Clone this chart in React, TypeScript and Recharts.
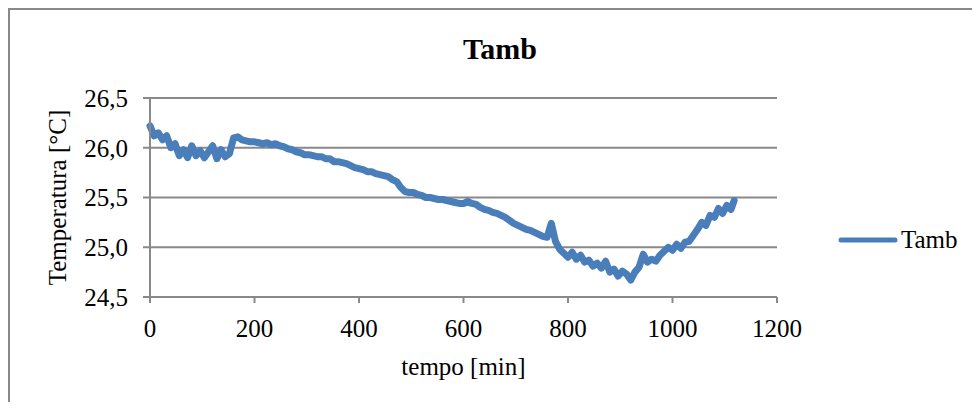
import React from 'react';
import { LineChart, Line, XAxis, YAxis, CartesianGrid, Legend, Label } from 'recharts';

// tempo [min] e temperatura ambiente [°C]
const tempo = [
  0, 8, 16, 24, 32, 40, 48, 56, 64, 72,
  80, 88, 96, 104, 112, 120, 128, 136, 144, 152,
  160, 168, 176, 184, 192, 200, 208, 216, 224, 232,
  240, 248, 256, 264, 272, 280, 288, 296, 304, 312,
  320, 328, 336, 344, 352, 360, 368, 376, 384, 392,
  400, 408, 416, 424, 432, 440, 448, 456, 464, 472,
  480, 488, 496, 504, 512, 520, 528, 536, 544, 552,
  560, 568, 576, 584, 592, 600, 608, 616, 624, 632,
  640, 648, 656, 664, 672, 680, 688, 696, 704, 712,
  720, 728, 736, 744, 752, 760, 768, 776, 784, 792,
  800, 808, 816, 824, 832, 840, 848, 856, 864, 872,
  880, 888, 896, 904, 912, 920, 928, 936, 944, 952,
  960, 968, 976, 984, 992, 1000, 1008, 1016, 1024, 1032,
  1040, 1048, 1056, 1064, 1072, 1080, 1088, 1096, 1104, 1112,
  1118,
];

const tamb = [
  26.22, 26.12, 26.15, 26.08, 26.12, 26.0, 26.04, 25.92, 25.98, 25.9,
  26.02, 25.92, 25.97, 25.9, 25.96, 26.02, 25.89, 25.98, 25.91, 25.94,
  26.1, 26.11, 26.08, 26.07, 26.06, 26.06, 26.05, 26.04, 26.05, 26.03,
  26.04, 26.02, 26.01, 25.99, 25.98, 25.96, 25.95, 25.93, 25.93, 25.92,
  25.91, 25.91, 25.89, 25.89, 25.86, 25.86, 25.85, 25.84, 25.82, 25.8,
  25.79, 25.78, 25.76, 25.76, 25.74, 25.73, 25.72, 25.71, 25.68, 25.66,
  25.6, 25.56, 25.55, 25.55, 25.53, 25.52, 25.5, 25.5, 25.49, 25.48,
  25.48, 25.47, 25.46, 25.45, 25.44, 25.44, 25.46, 25.44, 25.43, 25.4,
  25.38, 25.37, 25.35, 25.34, 25.32, 25.3, 25.27, 25.24, 25.22, 25.2,
  25.18, 25.17, 25.15, 25.13, 25.11, 25.1, 25.24, 25.06, 24.98, 24.94,
  24.9, 24.95, 24.88, 24.92, 24.85, 24.87, 24.81, 24.84, 24.79, 24.86,
  24.75, 24.78, 24.71, 24.76, 24.73, 24.67, 24.75, 24.8, 24.93, 24.85,
  24.88, 24.86, 24.92, 24.96, 25.0, 24.97, 25.03, 24.99, 25.05, 25.06,
  25.12, 25.18, 25.25, 25.22, 25.32, 25.3, 25.39, 25.34, 25.42, 25.38,
  25.47,
];

const xTicks = [0, 200, 400, 600, 800, 1000, 1200];
const yTicks = [24.5, 25.0, 25.5, 26.0, 26.5];

const data = tempo.map((t, i) => ({ tempo: t, Tamb: tamb[i] }));

const FONT = '"Liberation Serif", "Times New Roman", serif';
const GRAY = '#898989';
const BLUE = '#4A7EBB';

const fmt = (v: number) => v.toFixed(1).replace('.', ',');

const LegendContent = ({ payload }: any) => (
  <div style={{ display: 'flex', alignItems: 'center', fontFamily: FONT }}>
    {(payload || []).map((e: any) => (
      <div key={e.value} style={{ display: 'flex', alignItems: 'center' }}>
        <svg width={60} height={10}>
          <line x1={3} y1={5} x2={57} y2={5} stroke={e.color} strokeWidth={5} strokeLinecap="round" />
        </svg>
        <span style={{ fontSize: 25, marginLeft: 3, color: '#000' }}>{e.value}</span>
      </div>
    ))}
  </div>
);

export default function App() {
  return (
    <>
      <style>{'html,body{overflow:hidden}'}</style>
      <div
        style={{
          position: 'relative',
          width: 964,
          height: 394,
          boxSizing: 'border-box',
          borderLeft: `2px solid ${GRAY}`,
          borderTop: `2px solid ${GRAY}`,
          fontFamily: FONT,
          background: '#fff',
        }}
      >
        <div
          style={{
            position: 'absolute',
            left: 390,
            width: 200,
            top: 24,
            textAlign: 'center',
            fontSize: 30,
            lineHeight: '30px',
            fontWeight: 'bold',
          }}
        >
          Tamb
        </div>
        <LineChart
          width={962}
          height={392}
          data={data}
          margin={{ top: 88, right: 195, bottom: 30, left: 0 }}
          style={{ position: 'absolute', left: 0, top: 0 }}
        >
          <CartesianGrid vertical={false} stroke={GRAY} strokeWidth={2} />
          <XAxis
            dataKey="tempo"
            type="number"
            domain={[0, 1200]}
            ticks={xTicks}
            height={75}
            tickSize={6}
            tickMargin={16}
            axisLine={{ stroke: GRAY, strokeWidth: 2 }}
            tickLine={{ stroke: GRAY, strokeWidth: 2 }}
            tick={{ fill: '#000', fontSize: 25, fontFamily: FONT }}
          >
            <Label
              value="tempo [min]"
              position="insideBottom"
              offset={-3}
              style={{ fill: '#000', fontSize: 25, fontFamily: FONT }}
            />
          </XAxis>
          <YAxis
            type="number"
            domain={[24.5, 26.5]}
            ticks={yTicks}
            width={140}
            tickSize={7}
            tickMargin={15}
            tickFormatter={fmt}
            axisLine={{ stroke: GRAY, strokeWidth: 2 }}
            tickLine={{ stroke: GRAY, strokeWidth: 2 }}
            tick={{ fill: '#000', fontSize: 25, fontFamily: FONT }}
          >
            <Label
              value="Temperatura [°C]"
              angle={-90}
              position="insideLeft"
              offset={47}
              style={{ fill: '#000', fontSize: 25, fontFamily: FONT, textAnchor: 'middle' }}
            />
          </YAxis>
          {/* centred + middle keeps the legend out of the plot offsets */}
          <Legend
            layout="horizontal"
            verticalAlign="middle"
            align="center"
            content={<LegendContent />}
            wrapperStyle={{ left: 828, top: 216, right: 'auto', width: 'auto' }}
          />
          <Line
            type="linear"
            dataKey="Tamb"
            stroke={BLUE}
            strokeWidth={7}
            strokeLinejoin="round"
            strokeLinecap="round"
            dot={false}
            isAnimationActive={false}
          />
        </LineChart>
      </div>
    </>
  );
}
